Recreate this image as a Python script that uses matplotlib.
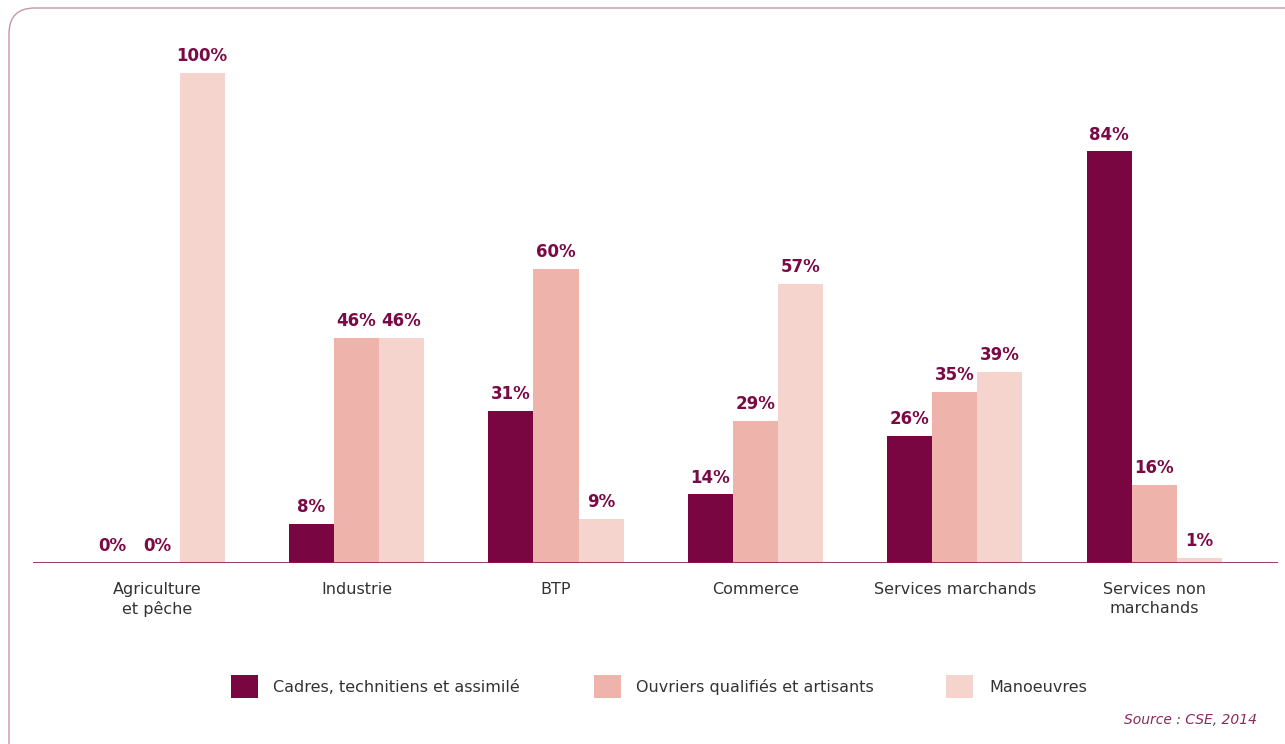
import matplotlib.pyplot as plt
import numpy as np
from matplotlib.patches import FancyBboxPatch, Rectangle

# Categories and shares (%) for each group of workers
secteurs = ['Agriculture\net pêche', 'Industrie', 'BTP', 'Commerce',
            'Services marchands', 'Services non\nmarchands']
cadres = [0, 8, 31, 14, 26, 84]
ouvriers = [0, 46, 60, 29, 35, 16]
manoeuvres = [100, 46, 9, 57, 39, 1]
series_names = ['Cadres, technitiens et assimilé',
                'Ouvriers qualifiés et artisants', 'Manoeuvres']

colors = ['#7a0641', '#eeb3ab', '#f6d4ce']
label_color = '#7a0a45'
text_color = '#333333'

W, H = 1285, 744
fig = plt.figure(figsize=(W / 100, H / 100), dpi=100)

# rounded frame around the chart (runs past the right and bottom edges)
frame = FancyBboxPatch((9 / W, -30 / H), (W + 20) / W, (H + 30 - 8) / H,
                       boxstyle='round,pad=0,rounding_size=0.02',
                       transform=fig.transFigure, fill=False,
                       edgecolor='#c995a9', linewidth=1.0, clip_on=False,
                       mutation_aspect=W / H)
fig.patches.append(frame)

ax = fig.add_axes([33 / W, 181 / H, (1278 - 33) / W, (563 - 40) / H])
ax.set_xlim(-0.622, 5.62)
ax.set_ylim(0, 100 * 523 / 490)

x = np.arange(len(secteurs))
w = 0.226
for i, vals in enumerate([cadres, ouvriers, manoeuvres]):
    pos = x + (i - 1) * w
    ax.bar(pos, vals, width=w, color=colors[i], linewidth=0)
    for xp, v in zip(pos, vals):
        ax.text(xp, v + 1.6, f'{v}%', ha='center', va='bottom',
                fontsize=12, fontweight='bold', color=label_color,
                family='DejaVu Sans')

ax.axhline(0, color='#8a1a55', linewidth=1.2)
for s in ax.spines.values():
    s.set_visible(False)
ax.set_yticks([])
ax.set_xticks(x)
ax.set_xticklabels(secteurs, fontsize=11.5, color=text_color,
                   family='DejaVu Sans', linespacing=1.3)
ax.tick_params(axis='x', length=0, pad=14)

# legend drawn by hand in figure pixels
legend_items = [(231, 273), (594, 636), (946, 989)]
for (sx, tx), name, c in zip(legend_items, series_names, colors):
    fig.patches.append(Rectangle((sx / W, (H - 698) / H), 27 / W, 23 / H,
                                 transform=fig.transFigure, color=c,
                                 linewidth=0))
    fig.text(tx / W, (H - 687) / H, name, ha='left', va='center',
             fontsize=11.5, color=text_color, family='DejaVu Sans')

fig.text(1257 / W, (H - 720) / H, 'Source : CSE, 2014', ha='right',
         va='center', fontsize=10, style='italic', color='#8c2a5c',
         family='DejaVu Sans')

fig.savefig('out.png', dpi=100)
